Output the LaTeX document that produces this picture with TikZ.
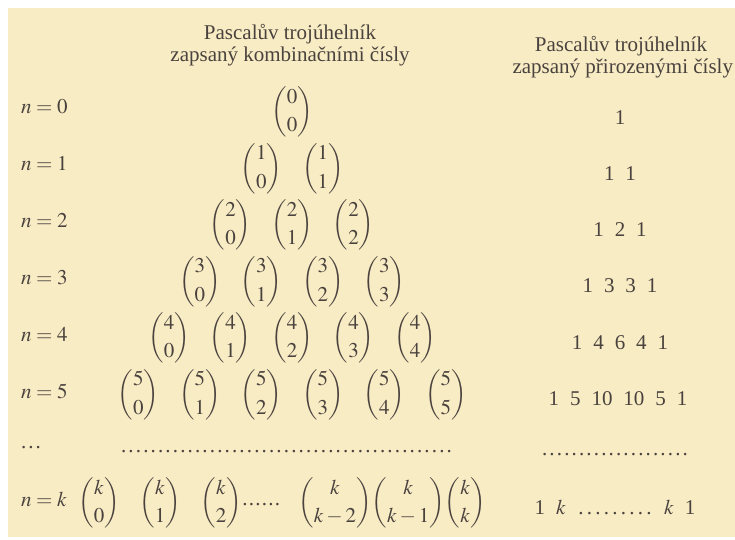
\documentclass[tikz,border=0pt]{standalone}
\usepackage{amsmath}
\usepackage{mathptmx}
\usepackage{fontspec}
\setmainfont{Liberation Serif}
\definecolor{paper}{RGB}{248,236,196}
\definecolor{ink}{RGB}{74,66,62}
\newcount\dotcnt
\newcommand\dotrun[2]{\dotcnt=0\relax\loop\ifnum\dotcnt<#1\relax\hbox to #2{\hss.\hss}\advance\dotcnt by 1\relax\repeat}
\newcommand\gp{\hspace{0.52em}}
\begin{document}
\begin{tikzpicture}[x=1pt,y=-1pt,
  every node/.style={inner sep=0pt, outer sep=0pt, text=ink, font=\fontsize{21}{25}\selectfont},
  lab/.style={anchor=base west},
  bin/.style={anchor=center},
  num/.style={anchor=base},
  hdr/.style={anchor=base}]
\useasboundingbox (0,0) rectangle (735,539);
\fill[white] (0,0) rectangle (735,539);
\fill[paper] (8,8) rectangle (735,537);
% headers
\node[hdr] (h1) at (290,39) {Pascalův trojúhelník};
\node[hdr] (h2) at (290,61) {zapsaný kombinačními čísly};
\node[hdr] (h3) at (621,51) {Pascalův trojúhelník};
\node[anchor=base east] (h4) at (733,73) {zapsaný přirozenými čísly};
% rows 0..5
\foreach \i in {0,...,5}{
  \node[lab] (n\i) at (21,{113+57*\i}) {$n=\i$};
  \foreach \j in {0,...,\i}{
    \node[bin] (b\i\j) at ({292+61.5*(\j-\i/2)},{112+56.5*\i}) {$\displaystyle\binom{\i}{\j}$};
  }
}
% right triangle
\node[num] (p0) at (620,124) {1};
\node[num] (p1) at (620,180) {1\gp1};
\node[num] (p2) at (620,236) {1\gp2\gp1};
\node[num] (p3) at (620,292) {1\gp3\gp3\gp1};
\node[num] (p4) at (620,349) {1\gp4\gp6\gp4\gp1};
\node[num] (p5) at (618,405) {1\gp5\gp10\gp10\gp5\gp1};
% dots row
\node[anchor=base west] (ld) at (20,448) {\dotrun{3}{7.3pt}};
\node[anchor=base west] (md) at (120,452) {\dotrun{45}{7.4pt}};
\node[num] (rd) at (615,455) {\dotrun{20}{7.4pt}};
% row k
\node[lab] (nk) at (21,506) {$n=k$};
\node[bin] (bk0) at (99,503) {$\displaystyle\binom{k}{0}$};
\node[bin] (bk1) at (160,503) {$\displaystyle\binom{k}{1}$};
\node[bin] (bk2) at (221,503) {$\displaystyle\binom{k}{2}$};
\node[anchor=base west] (kd) at (bk2.east |- 0,505) {\dotrun{6}{6.5pt}};
\node[bin] (bkk2) at (335,503) {$\displaystyle\binom{k}{k-2}$};
\node[anchor=west] (bkk1) at (bkk2.east) {$\displaystyle\binom{k}{k-1}$};
\node[anchor=west] (bkk) at (bkk1.east) {$\displaystyle\binom{k}{k}$};
\node[num] (pk) at (615,514) {1\gp$k$\gp\dotrun{9}{8.5pt}\gp$k$\gp1};
\end{tikzpicture}
\end{document}
